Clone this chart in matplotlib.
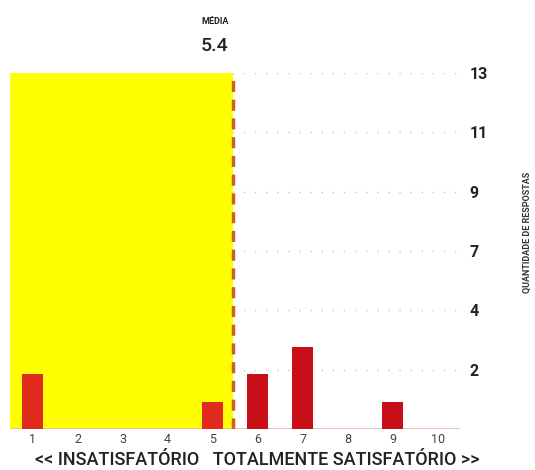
import numpy as np
import matplotlib
matplotlib.use("Agg")
import matplotlib.pyplot as plt

plt.rcParams['font.family'] = ['Roboto', 'DejaVu Sans']

# data
notas = [1, 2, 3, 4, 5, 6, 7, 8, 9, 10]
respostas = [2, 0, 0, 0, 1, 2, 3, 0, 1, 0]
y_max = 13
n_ticks = 6

media = np.dot(notas, respostas) / np.sum(respostas)

fig = plt.figure(figsize=(5.35, 4.70), dpi=100)
ax = fig.add_axes([0.019, 0.087, 0.841, 0.758])

# dotted grid lines (hidden under the yellow area)
yt = np.linspace(0, y_max, n_ticks + 1)[1:]
for y in yt:
    ax.axhline(y, color='#c4c4c4', lw=1.0, ls=(0, (1, 7)), zorder=1)

# yellow area up to the mean
ax.axvspan(0.5, media, color='#ffff00', zorder=2, lw=0)

cores = ['#e02a1c' if n < media else '#c80f18' for n in notas]
ax.bar(notas, respostas, width=0.47, color=cores, zorder=3)

ax.axhline(0, color='#e8b4b4', lw=1.2, zorder=2.5)
ax.axvline(media, color='#c8641e', lw=2.5, ls=(0, (3.2, 2.2)), zorder=4)

ax.set_xlim(0.5, 10.5)
ax.set_ylim(0, y_max)

ax.set_xticks(notas)
ax.set_xticklabels([str(n) for n in notas], fontsize=9, color='#444444')
ax.tick_params(axis='x', length=0, pad=3)
ax.yaxis.tick_right()
ax.set_yticks(yt)
ax.set_yticklabels([str(int(np.floor(v + 0.5))) for v in yt],
                   fontsize=11.5, fontweight='bold', color='#222222')
ax.tick_params(axis='y', length=0, pad=7)
for s in ax.spines.values():
    s.set_visible(False)

fig.text(0.481, 0.022, '<< INSATISFATÓRIO   TOTALMENTE SATISFATÓRIO >>',
         ha='center', va='center', fontsize=13, fontweight='medium', color='#222222')
fig.text(0.985, 0.505, 'QUANTIDADE DE RESPOSTAS', rotation=90,
         ha='center', va='center', fontsize=6.5, fontweight='bold', color='#333333')

# mean label
xm = ax.transData.transform((media, 0))[0] / fig.bbox.width
fig.text(xm - 0.008, 0.955, 'MÉDIA', ha='right', va='center',
         fontsize=6.5, fontweight='bold', color='#222222')
fig.text(xm - 0.008, 0.902, f'{media:.1f}', ha='right', va='center',
         fontsize=14, fontweight='medium', color='#222222')

fig.savefig('out.png', dpi=100, facecolor='white')
